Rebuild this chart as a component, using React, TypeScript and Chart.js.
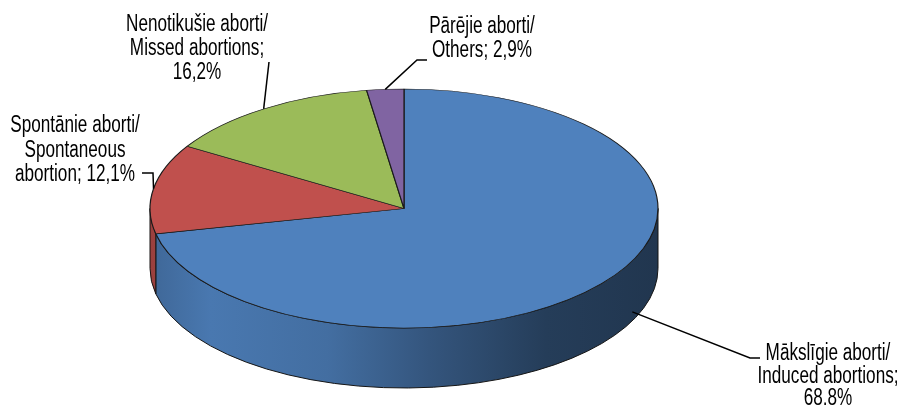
import { useEffect, useRef } from "react";
import { Chart, registerables } from "chart.js";

Chart.register(...registerables);

// ---------- data ----------
const categories = [
  "Mākslīgie aborti / Induced abortions",
  "Spontānie aborti / Spontaneous abortion",
  "Nenotikušie aborti / Missed abortions",
  "Pārējie aborti / Others",
];
const shares = [68.8, 12.1, 16.2, 2.9];
const labelLines = [
  ["Mākslīgie aborti/", "Induced abortions;", "68.8%"],
  ["Spontānie aborti/", "Spontaneous", "abortion; 12,1%"],
  ["Nenotikušie aborti/", "Missed abortions;", "16,2%"],
  ["Pārējie aborti/", "Others; 2,9%"],
];
const sliceColors = ["#4F81BD", "#C0504D", "#9BBB59", "#8064A2"];

// ---------- layout / style ----------
const W = 901;
const H = 407;
const CX = 404;
const CY = 208.5;
const RX = 254;
const RY = 119.5;
const DEPTH = 60;
const TILT = RY / RX;
const PERSPECTIVE = 0.19;
const FONT_PX = 23;
const FONT_SQUEEZE = 0.745;

const labelLayout = [
  { frac: 0.45, drop: 0.85, elbow: [[750, 358], [760, 358]], x: 828, y: 360, lh: 22.5 },
  { frac: 0.5, drop: 0, elbow: [[153, 173], [142, 173]], x: 75, y: 132, lh: 24.5 },
  { frac: 0.5, drop: 0, elbow: [[269, 62]], x: 197, y: 31, lh: 24 },
  { frac: 0.5, drop: 0, elbow: [[417, 60], [427, 60]], x: 482, y: 33, lh: 24 },
];
const SIDE_SHADE: [number, number][] = [
  [0, 0.8],
  [0.12, 0.93],
  [0.35, 0.85],
  [0.55, 0.66],
  [0.78, 0.47],
  [1, 0.42],
];

function hexRgb(h: string) {
  const n = parseInt(h.slice(1), 16);
  return [(n >> 16) & 255, (n >> 8) & 255, n & 255];
}
function shade(h: string, f: number) {
  const [r, g, b] = hexRgb(h);
  return `rgb(${Math.round(r * f)},${Math.round(g * f)},${Math.round(b * f)})`;
}
const warp = (a: number) => a - PERSPECTIVE * Math.cos(a);

const pie3d = {
  id: "pie3d",
  afterDatasetsUpdate(chart: any) {
    const meta = chart.getDatasetMeta(0);
    meta.data.forEach((el: any) => {
      const s = warp(el.startAngle);
      const e = warp(el.endAngle);
      el.startAngle = s;
      el.endAngle = e;
      el.circumference = e - s;
    });
  },
  beforeDatasetsDraw(chart: any) {
    const ctx = chart.ctx as CanvasRenderingContext2D;
    const meta = chart.getDatasetMeta(0);
    meta.data.forEach((el: any, i: number) => {
      const rx = el.outerRadius;
      const ry = rx * TILT;
      const cx = el.x;
      const cy = el.y;
      const a1 = Math.max(el.startAngle, 0);
      const a2 = Math.min(el.endAngle, Math.PI);
      if (a2 <= a1) return;
      const grad = ctx.createLinearGradient(cx - rx, 0, cx + rx, 0);
      SIDE_SHADE.forEach(([p, f]) => grad.addColorStop(p, shade(sliceColors[i], f)));
      ctx.save();
      ctx.beginPath();
      ctx.moveTo(cx + rx * Math.cos(a1), cy + ry * Math.sin(a1));
      ctx.ellipse(cx, cy, rx, ry, 0, a1, a2, false);
      ctx.lineTo(cx + rx * Math.cos(a2), cy + ry * Math.sin(a2) + DEPTH);
      ctx.ellipse(cx, cy + DEPTH, rx, ry, 0, a2, a1, true);
      ctx.closePath();
      ctx.fillStyle = grad;
      ctx.fill();
      ctx.lineWidth = 1;
      ctx.strokeStyle = "#151515";
      ctx.stroke();
      ctx.restore();
    });
    ctx.save();
    ctx.translate(0, CY);
    ctx.scale(1, TILT);
    ctx.translate(0, -CY);
  },
  afterDatasetsDraw(chart: any) {
    const ctx = chart.ctx as CanvasRenderingContext2D;
    ctx.restore();
    const meta = chart.getDatasetMeta(0);
    meta.data.forEach((el: any, i: number) => {
      const lay = labelLayout[i];
      const rx = el.outerRadius;
      const ry = rx * TILT;
      const a = el.startAngle + (el.endAngle - el.startAngle) * lay.frac;
      const ax = el.x + rx * Math.cos(a);
      const ay = el.y + ry * Math.sin(a) + lay.drop * DEPTH;
      ctx.save();
      ctx.beginPath();
      ctx.moveTo(ax, ay);
      lay.elbow.forEach(([px, py]) => ctx.lineTo(px, py));
      ctx.lineWidth = 1.5;
      ctx.strokeStyle = "#000";
      ctx.stroke();
      ctx.restore();
      ctx.save();
      ctx.font = `${FONT_PX}px "Liberation Sans", Arial, sans-serif`;
      ctx.fillStyle = "#000";
      ctx.textAlign = "center";
      ctx.textBaseline = "alphabetic";
      labelLines[i].forEach((line, j) => {
        ctx.save();
        ctx.translate(lay.x, lay.y + j * lay.lh);
        ctx.scale(FONT_SQUEEZE, 1);
        ctx.fillText(line, 0, 0);
        ctx.restore();
      });
      ctx.restore();
    });
  },
};

export default function App() {
  const ref = useRef<HTMLCanvasElement | null>(null);
  useEffect(() => {
    if (!ref.current) return;
    const chart = new Chart(ref.current, {
      type: "pie",
      data: {
        labels: categories,
        datasets: [
          {
            data: shares,
            backgroundColor: sliceColors,
            borderColor: "#1a1a1a",
            borderWidth: 1.2,
            radius: RX,
            clip: false,
          } as any,
        ],
      },
      options: {
        responsive: false,
        animation: false,
        devicePixelRatio: 1,
        events: [],
        layout: {
          padding: { left: 0, right: W - 2 * CX, top: 2 * CY - H, bottom: 0 },
        },
        plugins: {
          legend: { display: false },
          tooltip: { enabled: false },
        },
      },
      plugins: [pie3d as any],
    });
    return () => chart.destroy();
  }, []);
  return (
    <div style={{ position: "absolute", left: 0, top: 0, width: W, height: H, background: "#fff" }}>
      <canvas ref={ref} width={W} height={H} style={{ width: W, height: H, display: "block" }} />
    </div>
  );
}
